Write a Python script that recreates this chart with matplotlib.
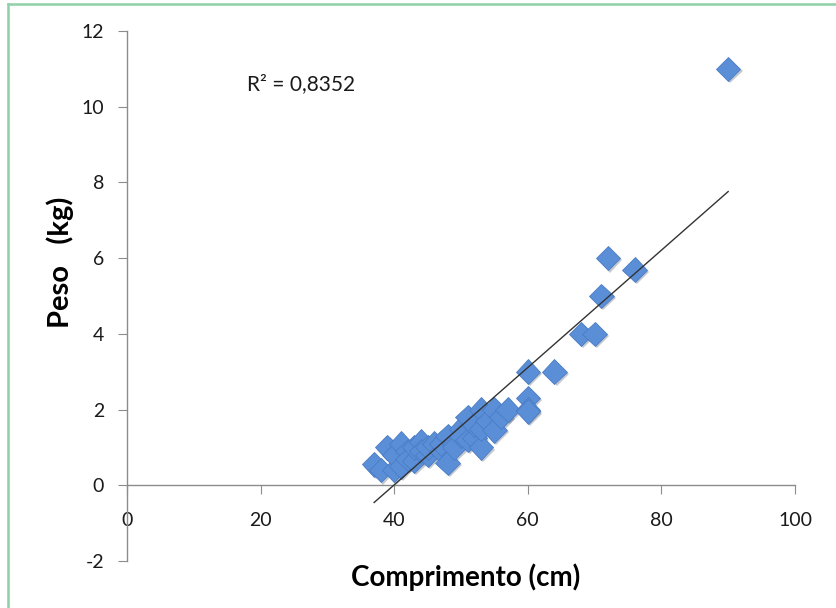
import numpy as np
import matplotlib
matplotlib.use("Agg")
import matplotlib.pyplot as plt
from matplotlib.lines import Line2D
import matplotlib.patheffects as pe

plt.rcParams['font.family'] = ['Lato', 'DejaVu Sans']
plt.rcParams['axes.unicode_minus'] = False

comprimento = [37, 38, 39, 40, 40, 41, 41, 42, 42, 43, 43, 44, 44, 45, 45, 46, 47, 47,
               48, 48, 49, 49, 50, 50, 51, 51, 52, 52, 53, 53, 53, 54, 55, 55, 56, 57,
               60, 60, 60, 60, 64, 68, 70, 71, 72, 76, 90]
peso = [0.55, 0.4, 1.0, 0.4, 0.8, 0.5, 1.1, 0.9, 0.7, 0.65, 1.0, 1.15, 0.9, 0.8, 1.0, 1.1,
        0.9, 1.1, 0.6, 1.3, 1.1, 1.0, 1.5, 1.3, 1.8, 1.2, 1.25, 1.6, 2.0, 1.0, 1.5, 1.7,
        2.0, 1.45, 1.8, 2.0, 3.0, 2.3, 2.0, 1.95, 3.0, 4.0, 4.0, 5.0, 6.0, 5.7, 11.0]
r2_text = "R² = 0,8352"
xticks = [0, 20, 40, 60, 80, 100]
yticks = [-2, 0, 2, 4, 6, 8, 10, 12]

fig = plt.figure(figsize=(8.37, 6.08), dpi=100)
ax = fig.add_axes([0.1517, 0.0773, 0.7981, 0.8717])

x = np.array(comprimento)
y = np.array(peso)
ax.plot(x, y, linestyle='none', marker='D', markersize=12.5,
        markerfacecolor='#5A8FD8', markeredgecolor='#4A7CC4', markeredgewidth=0.6,
        zorder=3,
        path_effects=[pe.SimplePatchShadow(offset=(1.5, -1.5), alpha=0.25), pe.Normal()])

coef = np.polyfit(x, y, 1)
xl = np.array([x.min(), x.max()])
ax.plot(xl, np.polyval(coef, xl), color='#333333', linewidth=1.0, zorder=4)

ax.set_xlim(0, 100)
ax.set_ylim(-2, 12)
ax.set_xticks(xticks)
ax.set_yticks(yticks)

for s in ['top', 'right']:
    ax.spines[s].set_visible(False)
ax.spines['bottom'].set_position(('data', 0))
for s in ['bottom', 'left']:
    ax.spines[s].set_color('#8C8C8C')
    ax.spines[s].set_linewidth(1.0)

ax.tick_params(axis='x', direction='out', length=6.5, color='#8C8C8C', pad=13,
               labelsize=14, labelcolor='#1A1A1A')
ax.tick_params(axis='y', direction='out', length=6.5, color='#8C8C8C', pad=10,
               labelsize=14, labelcolor='#1A1A1A')

ax.text(18.0, 10.6, r2_text, fontsize=15, color='#1A1A1A', ha='left', va='center')

fig.text(0.0717, 0.569, "Peso   (kg)", rotation=90, fontsize=21, fontweight='bold',
         ha='center', va='center')
fig.text(0.556, 0.051, "Comprimento (cm)", fontsize=20, fontweight='bold',
         ha='center', va='center')

# light green frame (top and left visible)
fig.add_artist(Line2D([8/837, 1.0], [1-4/608, 1-4/608], transform=fig.transFigure,
                      color='#8FD0A8', linewidth=1.8))
fig.add_artist(Line2D([8/837, 8/837], [0, 1-4/608], transform=fig.transFigure,
                      color='#8FD0A8', linewidth=1.8))

fig.savefig("out.png", dpi=100)
